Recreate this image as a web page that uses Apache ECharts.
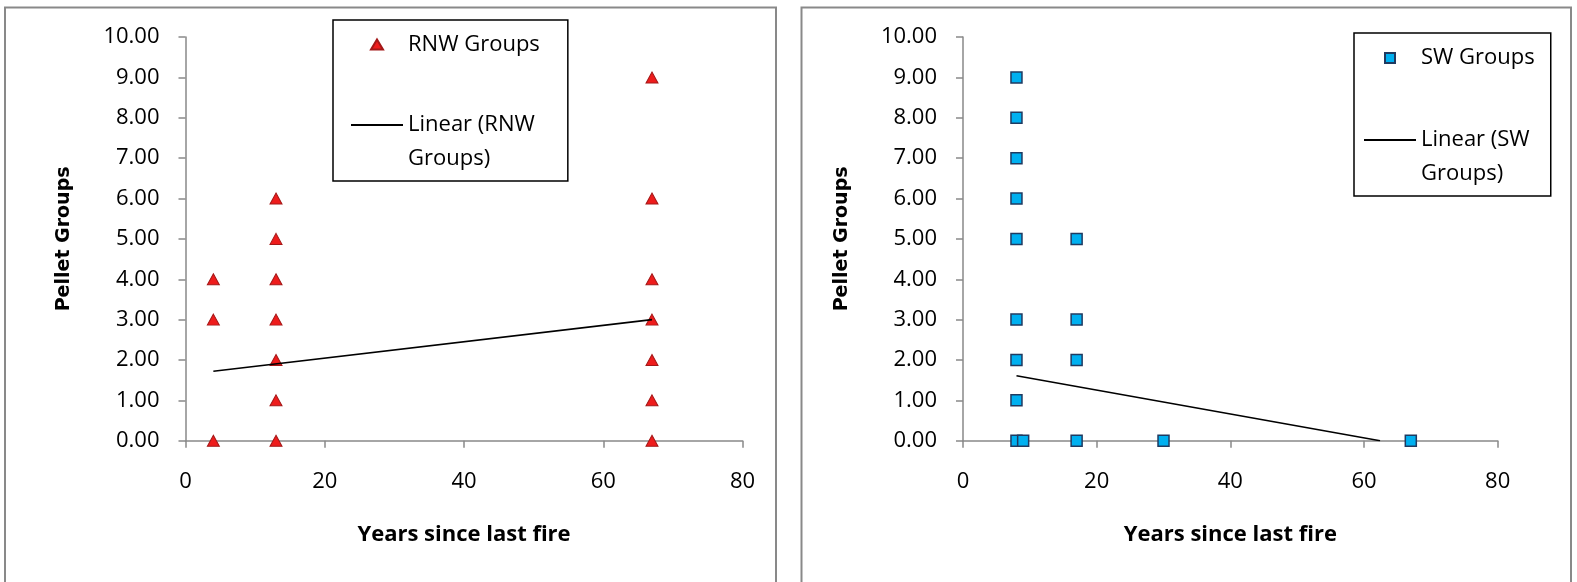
<!DOCTYPE html>
<html>
<head>
<meta charset="utf-8">
<script src="https://cdn.jsdelivr.net/npm/echarts@6/dist/echarts.min.js"></script>
<style>
html,body{margin:0;padding:0;background:#fff;}
#chart{width:1577px;height:582px;}
</style>
</head>
<body>
<div id="chart"></div>
<script>
// ---- data ----
const rnwX = [4, 4, 4, 13, 13, 13, 13, 13, 13, 13, 67, 67, 67, 67, 67, 67, 67];
const rnwY = [0, 3, 4, 0, 1, 2, 3, 4, 5, 6, 0, 1, 2, 3, 4, 6, 9];
const swX = [8, 8, 8, 8, 8, 8, 8, 8, 8, 9, 17, 17, 17, 17, 30, 67];
const swY = [0, 1, 2, 3, 5, 6, 7, 8, 9, 0, 0, 2, 3, 5, 0, 0];
const rnwTrendX = [4, 67];
const rnwTrendY = [1.72, 3.0];
const swTrendX = [8, 62.4];
const swTrendY = [1.61, 0];
const xTickLabels = ['0', '20', '40', '60', '80'];
const yTickLabels = ['0.00', '1.00', '2.00', '3.00', '4.00', '5.00', '6.00', '7.00', '8.00', '9.00', '10.00'];
const seriesNames = ['RNW Groups', 'Linear (RNW Groups)', 'SW Groups', 'Linear (SW Groups)'];
const legendTexts = ['RNW Groups', '\nLinear (RNW\nGroups)', 'SW Groups', '\nLinear (SW\nGroups)'];
const xTitle = 'Years since last fire';
const yTitle = 'Pellet Groups';

const FONT = "'Open Sans', Lato, sans-serif";
const AXIS_COLOR = '#898989';
const TRI_ICON = 'path://M6,0L12,10L0,10Z';
const SQ_ICON = 'path://M0,0L10,0L10,10L0,10Z';

function pairs(xs, ys) { return xs.map((x, i) => [x, ys[i]]); }

function xAxis(gi) {
  return {
    gridIndex: gi, type: 'value', min: 0, max: 80, interval: 20,
    axisLine: { show: true, onZero: false, lineStyle: { color: AXIS_COLOR, width: 1.5 } },
    axisTick: { show: true, length: 7, lineStyle: { color: AXIS_COLOR, width: 1.5 } },
    axisLabel: { margin: 30, fontSize: 22, lineHeight: 22, fontFamily: FONT, color: '#000',
      formatter: v => xTickLabels[Math.round(v / 20)] },
    splitLine: { show: false },
    name: xTitle, nameLocation: 'middle', nameGap: 81,
    nameTextStyle: { fontFamily: FONT, fontWeight: 'bold', fontSize: 22, lineHeight: 26, color: '#000' }
  };
}
function yAxis(gi) {
  return {
    gridIndex: gi, type: 'value', min: 0, max: 10, interval: 1,
    axisLine: { show: true, onZero: false, lineStyle: { color: AXIS_COLOR, width: 1.5 } },
    axisTick: { show: true, length: 7, lineStyle: { color: AXIS_COLOR, width: 1.5 } },
    axisLabel: { margin: 26, fontSize: 22, lineHeight: 22, fontFamily: FONT, color: '#000',
      formatter: v => yTickLabels[Math.round(v)] },
    splitLine: { show: false },
    name: yTitle, nameLocation: 'middle', nameGap: 110,
    nameTextStyle: { fontFamily: "'DejaVu Sans', Verdana, sans-serif", fontWeight: 'bold', fontSize: 19, lineHeight: 22, color: '#000' }
  };
}
function legend(i0, icon, left, top, padding, gap) {
  return {
    data: [
      { name: seriesNames[i0], icon: icon },
      { name: seriesNames[i0 + 1], itemStyle: { opacity: 0, color: 'rgba(0,0,0,0)', borderWidth: 0 } }
    ],
    orient: 'vertical', left: left, top: top,
    itemWidth: 52, itemHeight: 10, itemGap: gap,
    symbolKeepAspect: true,
    padding: padding,
    borderColor: '#000', borderWidth: 1.5, backgroundColor: '#fff',
    selectedMode: false,
    formatter: n => legendTexts[seriesNames.indexOf(n)],
    textStyle: { fontFamily: FONT, fontSize: 22, lineHeight: 34, color: '#000' }
  };
}

const chart = echarts.init(document.getElementById('chart'), null, { renderer: 'canvas' });
chart.setOption({
  animation: false,
  backgroundColor: '#fff',
  graphic: [
    { type: 'rect', z: -10, shape: { x: 5, y: 7.5, width: 771, height: 600 },
      style: { fill: '#fff', stroke: AXIS_COLOR, lineWidth: 2 } },
    { type: 'rect', z: -10, shape: { x: 801.5, y: 7.5, width: 769.5, height: 600 },
      style: { fill: '#fff', stroke: AXIS_COLOR, lineWidth: 2 } }
  ],
  grid: [
    { left: 185.5, top: 37.1, width: 557, height: 403.6 },
    { left: 963, top: 37.1, width: 534.7, height: 403.6 }
  ],
  xAxis: [xAxis(0), xAxis(1)],
  yAxis: [yAxis(0), yAxis(1)],
  legend: [
    legend(0, TRI_ICON, 333, 20, [7.5, 28, 5, 17], 12.5),
    legend(2, SQ_ICON, 1354, 33, [8, 16, 5, 9], 14)
  ],
  series: [
    { type: 'scatter', name: seriesNames[0], xAxisIndex: 0, yAxisIndex: 0,
      data: pairs(rnwX, rnwY), symbol: 'triangle', symbolSize: [12, 11],
      itemStyle: { color: '#ee1c1c', borderColor: '#a31818', borderWidth: 1, opacity: 1 } },
    { type: 'line', name: seriesNames[1], xAxisIndex: 0, yAxisIndex: 0,
      data: pairs(rnwTrendX, rnwTrendY), symbol: 'none', z: 3,
      lineStyle: { color: '#000', width: 1.6 }, itemStyle: { color: '#000' } },
    { type: 'scatter', name: seriesNames[2], xAxisIndex: 1, yAxisIndex: 1,
      data: pairs(swX, swY), symbol: 'rect', symbolSize: 11,
      itemStyle: { color: '#00b0f0', borderColor: '#1f3a60', borderWidth: 1.5, opacity: 1 } },
    { type: 'line', name: seriesNames[3], xAxisIndex: 1, yAxisIndex: 1,
      data: pairs(swTrendX, swTrendY), symbol: 'none', z: 3,
      lineStyle: { color: '#000', width: 1.6 }, itemStyle: { color: '#000' } }
  ]
});
</script>
</body>
</html>
